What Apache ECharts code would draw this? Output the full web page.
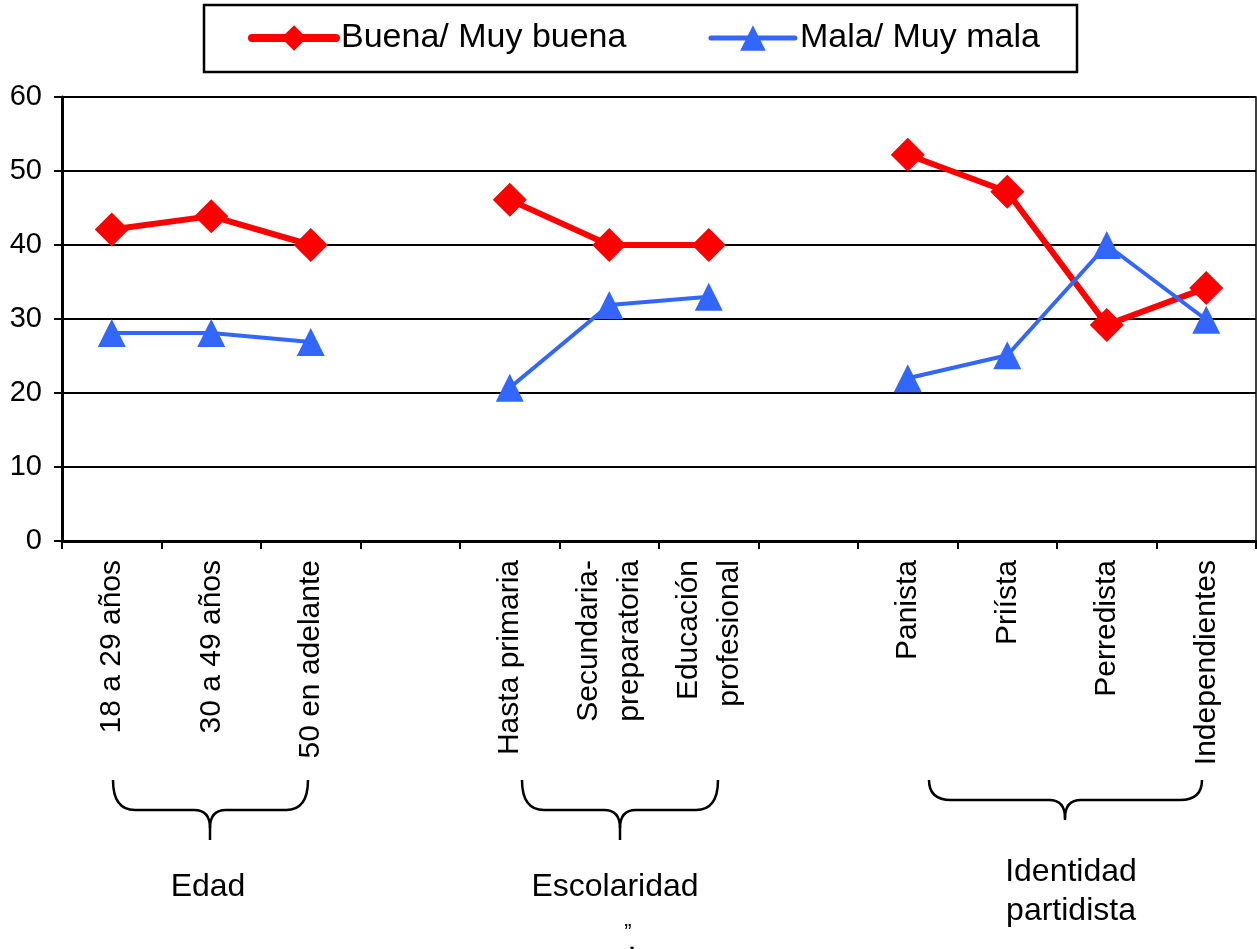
<!DOCTYPE html>
<html>
<head>
<meta charset="utf-8">
<script src="https://cdn.jsdelivr.net/npm/echarts@6/dist/echarts.min.js"></script>
<style>
html,body{margin:0;padding:0;background:#fff;}
#chart{width:1257px;height:949px;}
</style>
</head>
<body>
<div id="chart"></div>
<script>
const categories = ['18 a 29 años', '30 a 49 años', '50 en adelante', '', 'Hasta primaria', 'Secundaria-\npreparatoria', 'Educación\nprofesional', '', 'Panista', 'Priísta', 'Perredista', 'Independientes'];
const buena = [42.1, 43.9, 40, null, 46.1, 40, 40, null, 52.2, 47.2, 29.2, 34.2];
const mala = [28.1, 28.1, 26.9, null, 20.7, 31.9, 33, null, 22, 25.1, 40, 29.9];
const seriesNames = ['Buena/ Muy buena', 'Mala/ Muy mala'];
const yTicks = [0, 10, 20, 30, 40, 50, 60];
const groupLabels = ['Edad', 'Escolaridad', 'Identidad\npartidista'];

const FONT = '"Liberation Sans", Arial, sans-serif';
const chart = echarts.init(document.getElementById('chart'), null, {renderer: 'canvas'});

function brace(x1, x2, xm, ytop, yh, ybot) {
  const st = {stroke: '#000', lineWidth: 2.5, fill: null};
  const r = 16;
  return [
    {type: 'bezierCurve', shape: {x1: x1, y1: ytop, cpx1: x1, cpy1: yh, x2: x1 + r + 6, y2: yh}, style: st},
    {type: 'line', shape: {x1: x1 + r + 6, y1: yh, x2: xm - r, y2: yh}, style: st},
    {type: 'bezierCurve', shape: {x1: xm - r, y1: yh, cpx1: xm, cpy1: yh, x2: xm, y2: yh + 18}, style: st},
    {type: 'line', shape: {x1: xm, y1: yh + 18, x2: xm, y2: ybot}, style: st},
    {type: 'bezierCurve', shape: {x1: xm + r, y1: yh, cpx1: xm, cpy1: yh, x2: xm, y2: yh + 18}, style: st},
    {type: 'line', shape: {x1: xm + r, y1: yh, x2: x2 - r - 6, y2: yh}, style: st},
    {type: 'bezierCurve', shape: {x1: x2, y1: ytop, cpx1: x2, cpy1: yh, x2: x2 - r - 6, y2: yh}, style: st}
  ];
}

const graphics = [
  {type: 'rect', shape: {x: 204, y: 5, width: 873, height: 67}, style: {stroke: '#000', lineWidth: 2.5, fill: null}, z: 10}
]
.concat(brace(113, 308, 210, 780, 810, 840))
.concat(brace(522, 718, 620, 780, 810, 840))
.concat(brace(929, 1202, 1065, 780, 800, 820))
.concat([
  {type: 'text', x: 208, y: 887, style: {text: groupLabels[0], font: '32px ' + FONT, fill: '#000', textAlign: 'center', textVerticalAlign: 'middle'}},
  {type: 'text', x: 615, y: 887, style: {text: groupLabels[1], font: '32px ' + FONT, fill: '#000', textAlign: 'center', textVerticalAlign: 'middle'}},
  {type: 'text', x: 1071, y: 892, style: {text: groupLabels[2], font: '32px ' + FONT, lineHeight: 39, fill: '#000', textAlign: 'center', textVerticalAlign: 'middle'}},
  {type: 'text', x: 628, y: 933, style: {text: '”', font: '22px ' + FONT, fill: '#000', textAlign: 'center', textVerticalAlign: 'middle'}},
  {type: 'text', x: 632, y: 944, style: {text: '.', font: 'bold 22px ' + FONT, fill: '#000', textAlign: 'center', textVerticalAlign: 'middle'}}
]);

const option = {
  backgroundColor: '#fff',
  animation: false,
  textStyle: {fontFamily: FONT},
  legend: {
    left: 248,
    top: 21,
    itemWidth: 84,
    itemHeight: 32,
    itemGap: 82,
    padding: 0,
    textStyle: {fontSize: 34, color: '#000', fontFamily: FONT},
    data: [
      {name: seriesNames[0], lineStyle: {width: 8, color: '#FF0000', cap: 'round'}},
      {name: seriesNames[1], lineStyle: {width: 5, color: '#3366FF', cap: 'round'}}
    ]
  },
  grid: {left: 62, right: 1, top: 97, bottom: 408, show: true, borderColor: '#000', borderWidth: 1.5, containLabel: false},
  xAxis: {
    type: 'category',
    data: categories,
    boundaryGap: true,
    axisLine: {lineStyle: {color: '#000', width: 3}},
    axisTick: {show: true, interval: 0, length: 8, lineStyle: {color: '#000', width: 2}},
    axisLabel: {interval: 0, rotate: 90, margin: 19, fontSize: 30, lineHeight: 41, color: '#000', fontFamily: FONT},
    splitLine: {show: false}
  },
  yAxis: {
    type: 'value',
    min: yTicks[0],
    max: yTicks[yTicks.length - 1],
    interval: 10,
    axisLine: {show: true, lineStyle: {color: '#000', width: 3}},
    axisTick: {show: true, length: 8, lineStyle: {color: '#000', width: 2}},
    axisLabel: {margin: 20, fontSize: 29, color: '#000', fontFamily: FONT},
    splitLine: {show: true, lineStyle: {color: '#000', width: 2}}
  },
  series: [
    {
      name: seriesNames[0],
      type: 'line',
      data: buena,
      connectNulls: false,
      symbol: 'diamond',
      symbolSize: 34,
      color: '#FF0000',
      lineStyle: {color: '#FF0000', width: 6},
      itemStyle: {color: '#FF0000'}
    },
    {
      name: seriesNames[1],
      type: 'line',
      data: mala,
      connectNulls: false,
      symbol: 'triangle',
      symbolSize: 28,
      color: '#3366FF',
      lineStyle: {color: '#3366FF', width: 4},
      itemStyle: {color: '#3366FF'}
    }
  ],
  graphic: graphics
};
chart.setOption(option);
</script>
</body>
</html>
